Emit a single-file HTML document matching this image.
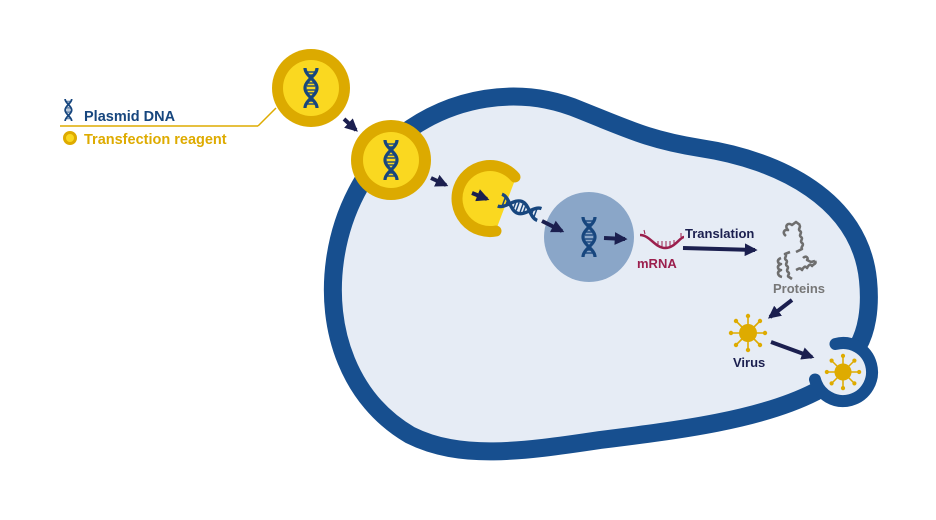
<!DOCTYPE html>
<html><head><meta charset="utf-8"><style>
html,body{margin:0;padding:0;background:#fff;}
svg{display:block;}
text{font-family:"Liberation Sans",sans-serif;font-weight:bold;}
</style></head><body>
<svg width="936" height="520" viewBox="0 0 936 520" xmlns="http://www.w3.org/2000/svg">
<defs>
<g id="dna">
 <path d="M2,0 C2,8 14,12 14,20 C14,28 2,32 2,40" fill="none" stroke="#17467e" stroke-width="3.2"/>
 <path d="M14,0 C14,8 2,12 2,20 C2,28 14,32 14,40" fill="none" stroke="#17467e" stroke-width="3.2"/>
 <g stroke="#17467e" stroke-width="1.4">
  <line x1="4" y1="4" x2="12" y2="4"/><line x1="6" y1="7" x2="10" y2="7"/>
  <line x1="4" y1="15" x2="12" y2="15"/><line x1="4" y1="18" x2="12" y2="18"/><line x1="4" y1="22" x2="12" y2="22"/><line x1="4" y1="25" x2="12" y2="25"/>
  <line x1="6" y1="33" x2="10" y2="33"/><line x1="4" y1="36" x2="12" y2="36"/>
 </g>
</g>
<g id="virus">
 <g stroke="#deab00" stroke-width="1.6">
  <line x1="0" y1="0" x2="0" y2="-17"/><line x1="0" y1="0" x2="12" y2="-12"/><line x1="0" y1="0" x2="17" y2="0"/><line x1="0" y1="0" x2="12" y2="12"/>
  <line x1="0" y1="0" x2="0" y2="17"/><line x1="0" y1="0" x2="-12" y2="12"/><line x1="0" y1="0" x2="-17" y2="0"/><line x1="0" y1="0" x2="-12" y2="-12"/>
 </g>
 <g fill="#deab00">
  <circle r="9"/><circle cx="0" cy="-17" r="2.2"/><circle cx="12" cy="-12" r="2.2"/><circle cx="17" cy="0" r="2.2"/><circle cx="12" cy="12" r="2.2"/>
  <circle cx="0" cy="17" r="2.2"/><circle cx="-12" cy="12" r="2.2"/><circle cx="-17" cy="0" r="2.2"/><circle cx="-12" cy="-12" r="2.2"/>
 </g>
</g>
<marker id="ah" viewBox="0 0 10 10" refX="8" refY="5" markerWidth="3.2" markerHeight="3.2" orient="auto"><path d="M0,0 L10,5 L0,10 Z" fill="#1b1f4f"/></marker>
</defs>

<!-- cell -->
<path d="M395,140 C450,95 520,85 580,110 C630,130 650,140 700,148 C780,160 860,200 868,280 C871,310 866,332 858,346 L843,372 L815,392 C760,420 680,430 600,440 C520,452 460,460 410,435 C350,400 325,330 335,260 C342,210 365,170 395,140 Z" fill="#e6ecf5" stroke="#174f8f" stroke-width="18" stroke-linejoin="round"/>
<!-- bud -->
<circle cx="843" cy="372" r="26" fill="#e6ecf5"/>
<path d="M822,345 L842,346 L836,372 L812,376 Z" fill="#e6ecf5"/>
<path d="M835.5,344 A29,29 0 1 1 815,379.5" fill="none" stroke="#174f8f" stroke-width="12" stroke-linecap="round"/>

<!-- legend -->
<line x1="60" y1="126" x2="258" y2="126" stroke="#deab00" stroke-width="1.5"/>
<line x1="258" y1="126" x2="276" y2="108" stroke="#deab00" stroke-width="1.5"/>
<use href="#dna" transform="translate(64,99) scale(0.55)"/>
<text x="84" y="121" font-size="14.5" fill="#17467e">Plasmid DNA</text>
<circle cx="70" cy="138" r="5.5" fill="#fad820" stroke="#deab00" stroke-width="3"/>
<text x="84" y="144" font-size="14.5" fill="#deab00">Transfection reagent</text>

<!-- particle 1 -->
<circle cx="311" cy="88" r="39" fill="#dcaa00"/>
<circle cx="311" cy="88" r="28" fill="#fad820"/>
<use href="#dna" transform="translate(303,68)"/>
<!-- particle 2 -->
<circle cx="391" cy="160" r="40" fill="#dcaa00"/>
<circle cx="391" cy="160" r="28" fill="#fad820"/>
<use href="#dna" transform="translate(383,140)"/>

<!-- open particle -->
<path d="M515,180 A32,32 0 1 0 496,230 Z" fill="#fad820"/>
<path d="M515,177 A33,33 0 1 0 496,231" fill="none" stroke="#dcaa00" stroke-width="11" stroke-linecap="round"/>

<!-- nucleus -->
<circle cx="589" cy="237" r="45" fill="#8aa6c8"/>
<use href="#dna" transform="translate(581,217)"/>

<!-- escaping dna (tilted) -->
<use href="#dna" transform="translate(497,208) rotate(-70) scale(1.05)"/>

<!-- arrows -->
<g stroke="#1b1f4f" stroke-width="4" marker-end="url(#ah)" fill="none">
 <line x1="344" y1="119" x2="356" y2="130"/>
 <line x1="431" y1="178" x2="446" y2="185"/>
 <line x1="472" y1="193" x2="487" y2="199"/>
 <line x1="542" y1="221" x2="562" y2="231"/>
 <line x1="604" y1="238" x2="625" y2="239"/>
 <line x1="683" y1="248" x2="755" y2="250"/>
 <line x1="792" y1="300" x2="770" y2="317"/>
 <line x1="771" y1="342" x2="812" y2="357"/>
</g>

<!-- mRNA -->
<path d="M640,235 C650,235 655,248 665,248 C675,248 680,237 684,237" fill="none" stroke="#9b1f4d" stroke-width="2.5"/>
<g stroke="#9b1f4d" stroke-width="1"><line x1="658" y1="241" x2="658" y2="246"/><line x1="662" y1="241" x2="662" y2="247"/><line x1="666" y1="241" x2="666" y2="247"/><line x1="670" y1="241" x2="670" y2="246"/><line x1="674" y1="240" x2="674" y2="244"/><line x1="644" y1="230" x2="645" y2="234"/><line x1="681" y1="233" x2="681" y2="237"/></g>
<text x="637" y="268" font-size="13" fill="#9b1f4d">mRNA</text>
<text x="685" y="238" font-size="13" fill="#1b1f4f">Translation</text>

<!-- proteins -->
<g fill="none" stroke="#6e6e6e" stroke-width="2.6" stroke-linejoin="round">
 <path d="M786,236 c-4,-3 -2,-7 2,-6 c-4,-4 0,-8 4,-5 l4,-3 l4,3 m-1,0 c3,2 -2,4 1,6 c3,2 -2,4 1,6 c3,2 -2,4 1,6 c3,2 -2,4 0,6 l-6,3"/>
 <path d="M790,252 l-5,2 c3,2 -2,4 1,6 c3,2 -2,4 1,6 c3,2 -2,4 1,6 c3,2 -2,4 1,5 l3,2"/>
 <path d="M781,258 c-5,2 -3,6 0,6 c-5,2 -3,6 0,6 c-5,2 -3,6 1,7"/>
 <path d="M803,258 c3,-3 6,0 4,2 l4,2 l4,-1 m0,0 c2,3 -2,3 -3,5 c-2,-3 -4,0 -5,2 c-2,-3 -4,0 -5,2 c-2,-3 -4,-1 -6,0"/>
</g>
<text x="773" y="293" font-size="13" fill="#777">Proteins</text>

<!-- virus -->
<use href="#virus" transform="translate(748,333)"/>
<use href="#virus" transform="translate(843,372) scale(0.95)"/>
<text x="733" y="367" font-size="13" fill="#1b1f4f">Virus</text>
</svg>
</body></html>
